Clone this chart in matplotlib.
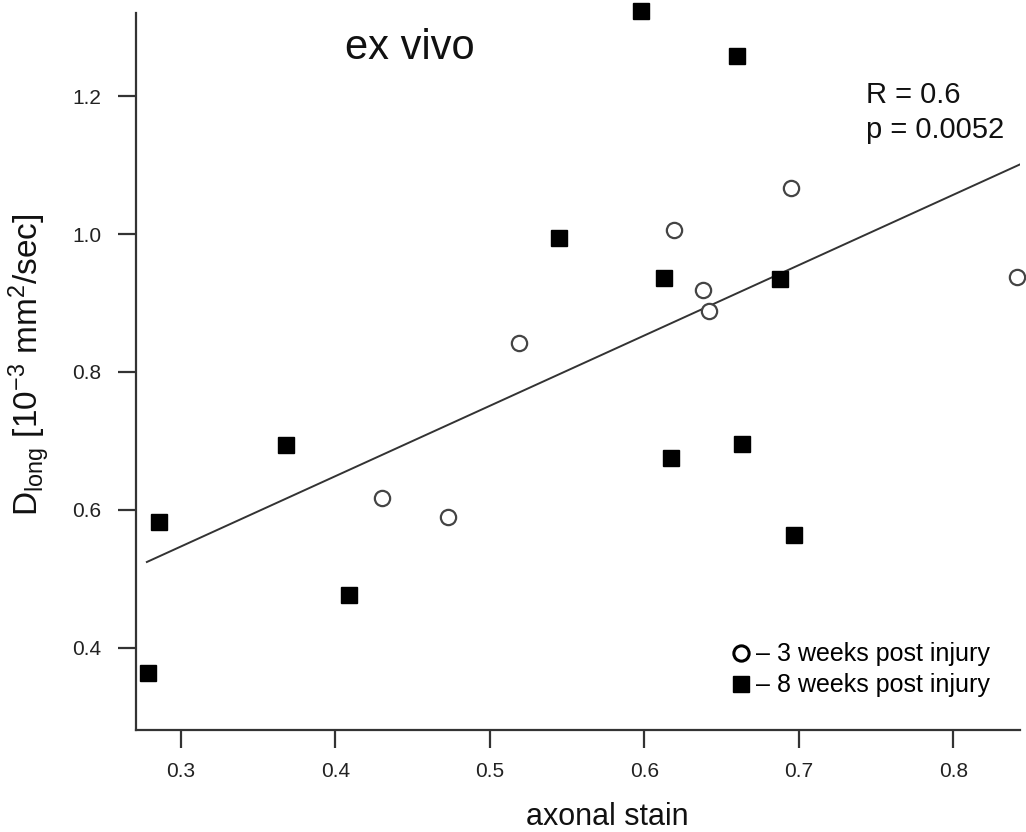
import numpy as np
import matplotlib
matplotlib.use('Agg')
import matplotlib.pyplot as plt
from matplotlib.lines import Line2D

plt.rcParams['font.family'] = ['Liberation Sans', 'DejaVu Sans']
plt.rcParams['mathtext.default'] = 'regular'

# 3 weeks post injury (open circles)
stain_3w = [0.430, 0.473, 0.519, 0.619, 0.638, 0.642, 0.695, 0.841]
dlong_3w = [0.617, 0.590, 0.842, 1.006, 0.919, 0.888, 1.067, 0.938]

# 8 weeks post injury (filled squares)
stain_8w = [0.279, 0.286, 0.368, 0.409, 0.545, 0.598, 0.613, 0.660,
            0.617, 0.663, 0.688, 0.697]
dlong_8w = [0.364, 0.583, 0.694, 0.477, 0.994, 1.323, 0.936, 1.258,
            0.675, 0.696, 0.935, 0.564]

# regression line as printed
fit_slope = 1.02
fit_intercept = 0.241
fit_range = [0.278, 0.843]

x_ticks = [0.3, 0.4, 0.5, 0.6, 0.7, 0.8]
y_ticks = [0.4, 0.6, 0.8, 1.0, 1.2]

fig = plt.figure(figsize=(10.26, 8.32), dpi=100)
ax = fig.add_axes([0.1326, 0.1226, 0.8614, 0.8614])

fx = np.array(fit_range)
ax.plot(fx, fit_intercept + fit_slope * fx, color='#333333', lw=1.4)

ax.plot(stain_3w, dlong_3w, linestyle='none', marker='o', ms=11,
        mfc='white', mec='#444444', mew=1.6, clip_on=False)
ax.plot(stain_8w, dlong_8w, linestyle='none', marker='s', ms=12,
        mfc='black', mec='black', clip_on=False)

ax.set_xlim(0.271, 0.843)
ax.set_ylim(0.281, 1.32)
ax.set_xticks(x_ticks)
ax.set_yticks(y_ticks)
ax.set_xticklabels(['%.1f' % v for v in x_ticks])
ax.set_yticklabels(['%.1f' % v for v in y_ticks])

for s in ['top', 'right']:
    ax.spines[s].set_visible(False)
for s in ['left', 'bottom']:
    ax.spines[s].set_linewidth(1.6)
    ax.spines[s].set_color('#333333')
ax.tick_params(direction='out', length=13, width=1.6, color='#333333',
               labelsize=15, labelcolor='#222222')
ax.tick_params(axis='x', pad=10)
ax.tick_params(axis='y', pad=12)

ax.set_xlabel('axonal stain', fontsize=22, color='#111111', va='center')
ax.xaxis.set_label_coords(0.533, -0.122)
ax.set_ylabel(r'D$_{long}$ [10$^{-3}$ mm$^{2}$/sec]', fontsize=24,
              color='#111111', va='center')
ax.yaxis.set_label_coords(-0.120, 0.51)

ax.text(0.310, 0.952, 'ex vivo', transform=ax.transAxes, fontsize=30,
        ha='center', va='center', color='#111111')
ax.text(0.826, 0.862, 'R = 0.6\np = 0.0052', transform=ax.transAxes,
        fontsize=21, ha='left', va='center', linespacing=1.3,
        color='#111111')

handles = [
    Line2D([], [], linestyle='none', marker='o', ms=11, mfc='white',
           mec='black', mew=2.2),
    Line2D([], [], linestyle='none', marker='s', ms=11, mfc='black',
           mec='black'),
]
ax.legend(handles, ['\u2013 3 weeks post injury', '\u2013 8 weeks post injury'],
          loc='lower right', bbox_to_anchor=(0.98, 0.028), frameon=False,
          fontsize=18, handletextpad=0.0, labelspacing=0.28,
          handlelength=1.2, borderpad=0)

fig.savefig('out.png', dpi=100)
